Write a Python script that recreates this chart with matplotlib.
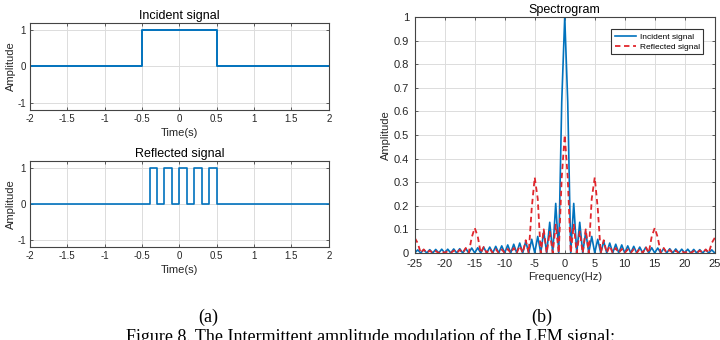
import numpy as np
import matplotlib
matplotlib.use("Agg")
import matplotlib.pyplot as plt

plt.rcParams['font.family'] = ['Liberation Sans', 'DejaVu Sans']
plt.rcParams['axes.unicode_minus'] = False

# time domain signals (edges of the square pulses)
incident_t = [-2, -0.5, 0.5, 2]
incident_a = [0, 1, 0, 0]
reflected_t = [-2, -0.4, -0.3, -0.2, -0.1, 0, 0.1, 0.2, 0.3, 0.4, 0.5, 2]
reflected_a = [0, 1, 0, 1, 0, 1, 0, 1, 0, 1, 0, 0]

# spectrum, read at every 0.5 Hz from 0 to 25 Hz (symmetric about 0)
freq_pos = np.arange(0, 25.5, 0.5)
incident_spec_pos = [
    1.00, 0.64, 0, 0.21, 0, 0.13, 0, 0.09, 0, 0.07,
    0, 0.058, 0, 0.049, 0, 0.042, 0, 0.037, 0, 0.034,
    0, 0.030, 0, 0.028, 0, 0.025, 0, 0.024, 0, 0.022,
    0, 0.021, 0, 0.019, 0, 0.018, 0, 0.017, 0, 0.016,
    0, 0.016, 0, 0.015, 0, 0.014, 0, 0.014, 0, 0.013,
    0,
]
reflected_spec_pos = [
    0.50, 0.32, 0, 0.12, 0, 0.09, 0, 0.10, 0, 0.23,
    0.32, 0.19, 0, 0.054, 0, 0.030, 0, 0.021, 0, 0.017,
    0, 0.015, 0, 0.016, 0, 0.018, 0, 0.026, 0, 0.070,
    0.106, 0.066, 0, 0.021, 0, 0.013, 0, 0.010, 0, 0.008,
    0, 0.008, 0, 0.008, 0, 0.010, 0, 0.015, 0, 0.042,
    0.064,
]

freq = np.concatenate([-freq_pos[:0:-1], freq_pos])
incident_spec = np.concatenate([incident_spec_pos[:0:-1], incident_spec_pos])
reflected_spec = np.concatenate([reflected_spec_pos[:0:-1], reflected_spec_pos])

time_ticks = ['-2', '-1.5', '-1', '-0.5', '0', '0.5', '1', '1.5', '2']

blue = '#0072BD'
red = '#e0262c'
axis_col = '#444444'
txt_col = '#262626'
serif = ['Liberation Serif', 'DejaVu Serif']


def style_axes(ax, tick_size):
    ax.grid(True, color='#dcdcdc', linewidth=0.7)
    ax.set_axisbelow(True)
    for s in ax.spines.values():
        s.set_color(axis_col)
        s.set_linewidth(0.8)
    ax.tick_params(direction='in', length=2.5, width=0.6, colors=axis_col,
                   labelcolor=txt_col, labelsize=tick_size, top=True, right=True, pad=3)


def time_axes(ax, t, a, title, lw):
    ax.step(t, a, where='post', color=blue, linewidth=lw)
    ax.set_xlim(-2, 2)
    ax.set_ylim(-1.2, 1.2)
    ax.set_xticks(np.arange(-2, 2.5, 0.5))
    ax.set_xticklabels(time_ticks)
    ax.set_yticks([-1, 0, 1])
    ax.set_title(title, fontsize=9, color='black', pad=3)
    ax.set_xlabel('Time(s)', fontsize=8, color=txt_col, labelpad=3)
    ax.set_ylabel('Amplitude', fontsize=8, color=txt_col, labelpad=1)
    style_axes(ax, 7)


fig = plt.figure(figsize=(7.2, 3.4), dpi=100)

ax1 = fig.add_axes([0.0417, 0.6765, 0.415, 0.256])
time_axes(ax1, incident_t, incident_a, 'Incident signal', 1.4)

ax2 = fig.add_axes([0.0417, 0.2735, 0.415, 0.253])
time_axes(ax2, reflected_t, reflected_a, 'Reflected signal', 1.2)

ax3 = fig.add_axes([0.576, 0.256, 0.4167, 0.694])
ax3.plot(freq, incident_spec, color=blue, linewidth=1.2, label='Incident signal')
ax3.plot(freq, reflected_spec, color=red, linewidth=1.3, linestyle=(0, (3, 2)),
         label='Reflected signal')
ax3.set_xlim(-25, 25)
ax3.set_ylim(0, 1)
ax3.set_xticks(np.arange(-25, 26, 5))
ax3.set_yticks(np.arange(0, 1.01, 0.1))
ax3.set_yticklabels(['0', '0.1', '0.2', '0.3', '0.4', '0.5', '0.6', '0.7', '0.8', '0.9', '1'])
ax3.set_title('Spectrogram', fontsize=9, color='black', pad=3)
ax3.set_xlabel('Frequency(Hz)', fontsize=8, color=txt_col, labelpad=2)
ax3.set_ylabel('Amplitude', fontsize=8, color=txt_col, labelpad=2)
style_axes(ax3, 8)
ax3.tick_params(axis='x', pad=4.5)
ax3.tick_params(axis='y', pad=4)
leg = ax3.legend(loc='upper right', fontsize=6, fancybox=False, framealpha=1,
                 edgecolor='#333333', handlelength=2.6, borderpad=0.4,
                 labelspacing=0.3, handletextpad=0.4, bbox_to_anchor=(0.975, 0.965))
leg.get_frame().set_linewidth(0.8)

fig.text(0.289, 0.068, '(a)', ha='center', va='center', fontsize=13, family=serif)
fig.text(0.753, 0.068, '(b)', ha='center', va='center', fontsize=13, family=serif)
fig.text(0.515, -0.006, 'Figure 8. The Intermittent amplitude modulation of the LFM signal;',
         ha='center', va='baseline', fontsize=13, family=serif)

fig.savefig('out.png', dpi=100)
